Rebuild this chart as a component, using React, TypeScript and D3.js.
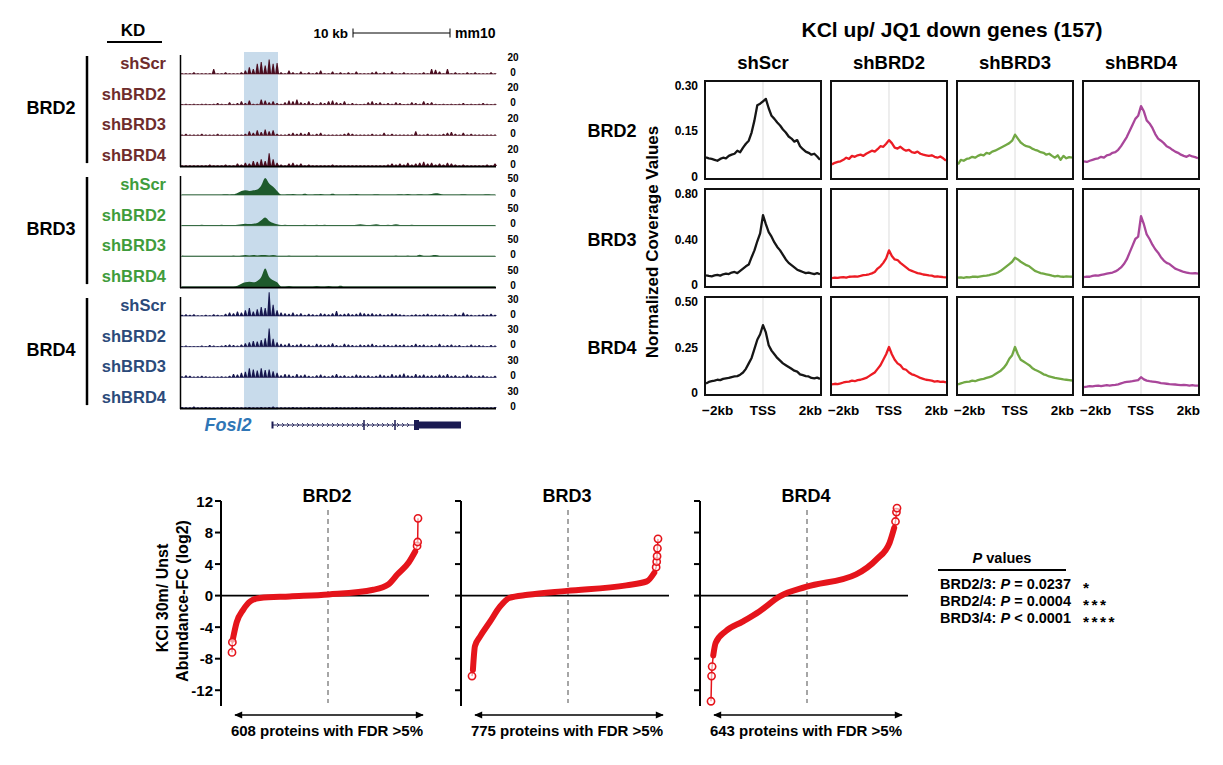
import React from "react";
import * as d3 from "d3";

const FONT = "'Liberation Sans', Arial, Helvetica, sans-serif";

// ---------------- Genome browser data ----------------
const kdNames = ["shScr", "shBRD2", "shBRD3", "shBRD4"];
const factorNames = ["BRD2", "BRD3", "BRD4"];
const trackMax = [20, 50, 30];
const geneName = "Fosl2";

const brd2ShScr = [1,0,1,2,0,1,1,0,6,1,0,2,1,0,1,2, 4,8,6,12,14,10,17,12,13, 2,1,4,2,1,3,1,2,1,2, 4,1,0,3,1,2,1,2,1,3, 1,0,1,2,3,1,2,1,3,1, 1,2,1,1,0,1,2,1,6,5, 3,1,6,1,2,1,1,2,1,2, 1,0,1,2,1];
const brd2ShBRD2 = [0,1,0,1,0,1,1,0,1,2,1,0,3,1,2,4, 2,5,1,1,6,5,3,4,2, 1,3,5,4,6,3,2,4,2,1, 3,2,4,5,3,2,4,1,2,1, 0,1,3,4,2,3,1,2,1,3, 2,0,1,3,2,1,4,2,3,1, 0,1,0,1,0,1,2,0,1,0, 1,2,1,0,1];
const brd2ShBRD3 = [1,2,1,0,1,2,1,0,1,2,1,0,1,0,1,1, 2,5,3,6,4,7,5,6,2, 1,0,2,3,2,3,2,4,1,2, 3,1,0,1,0,1,2,3,2,1, 0,1,1,2,0,1,3,1,2,1, 0,1,0,1,5,1,0,2,1,0, 1,2,3,4,2,1,3,1,2,1, 0,1,1,0,1];
const brd2ShBRD4 = [0,1,0,1,1,0,1,2,0,1,1,2,1,1,3,2, 4,3,6,5,8,6,15,8,4, 2,1,3,4,2,3,1,2,1,1, 0,1,1,2,1,0,1,1,0,1, 0,1,0,1,1,0,1,2,3,2, 3,2,4,2,3,4,5,3,4,2, 3,2,4,3,2,1,2,1,0,1, 1,0,2,1,3];

const brd3ShScr = [0,0,1,0,0,1,0,1,0,1,0,2,1,2,6,12, 14,12,14,16,28,50,34,24,12, 1,0,2,3,1,0,4,1,0,2, 3,1,0,4,1,0,1,0,2,3, 0,1,0,1,2,0,1,0,1,0, 2,1,3,0,1,2,0,1,3,5, 4,1,0,1,0,1,2,0,1,0, 0,1,2,1,0];
const brd3ShBRD2 = [0,1,0,1,2,3,2,1,0,2,3,2,1,2,3,4, 6,5,6,8,16,24,14,8,4, 1,3,2,1,0,2,3,1,0,3, 2,3,1,0,0,0,0,1,2,3, 4,3,2,3,4,2,1,3,2,4, 2,1,2,3,2,1,0,1,0,0, 0,1,0,0,1,2,0,0,1,0, 2,1,0,1,0];
const brd3ShBRD3 = [3,2,1,0,1,2,1,0,1,2,1,0,2,3,2,3, 4,3,4,3,4,4,3,4,2, 1,2,3,1,2,1,0,1,2,3, 2,1,1,0,1,2,1,0,1,2, 1,1,0,1,2,1,0,1,2,3, 1,2,3,2,1,5,2,1,3,4, 2,1,0,1,2,0,1,0,1,2, 1,0,1,0,1];
const brd3ShBRD4 = [1,0,1,2,1,0,1,0,1,2,1,0,2,1,4,10, 14,16,14,18,30,55,30,20,14, 2,1,3,2,1,0,1,2,1,3, 2,1,3,1,0,4,1,1,0,1, 0,1,2,0,1,0,1,0,2,1, 0,1,2,1,0,1,2,1,0,1, 0,1,2,0,1,0,1,0,1,2, 1,0,1,0,1];

const brd4ShScr = [2,3,2,3,1,0,2,1,3,2,1,4,6,5,8,6, 10,14,8,12,16,14,42,20,10, 6,5,4,6,3,5,2,4,3,2, 5,4,3,5,9,3,4,5,3,4, 6,5,4,5,3,4,2,3,5,4, 3,2,1,2,3,2,3,4,2,3, 2,3,2,1,4,2,6,3,2,1, 2,3,2,4,2];
const brd4ShBRD2 = [1,2,1,0,1,2,1,3,2,1,2,3,4,3,2,4, 6,8,10,9,12,15,32,14,8, 5,4,6,3,4,5,3,4,2,5, 4,3,4,6,3,2,5,4,3,2, 4,3,4,5,3,2,4,3,2,4, 3,4,2,3,5,3,4,2,3,2, 5,2,3,4,2,3,1,2,4,2, 3,2,1,3,2];
const brd4ShBRD3 = [2,4,3,1,2,3,2,1,0,1,2,1,3,6,5,8, 10,16,14,12,16,13,14,11,8, 4,6,5,3,6,4,5,3,2,4, 5,3,2,4,6,3,4,2,3,5, 4,3,4,2,3,5,4,3,6,4, 5,7,4,3,6,4,5,3,4,3, 5,4,6,3,4,2,3,5,4,2, 3,4,2,1,3];
const brd4ShBRD4 = [2,1,1,3,1,1,2,1,1,1,2,1,1,2,1,1, 1,2,1,1,2,1,2,3,1, 1,1,1,2,1,1,1,2,1,1, 2,1,1,1,2,1,1,1,1,2, 1,1,2,1,1,2,1,1,2,1, 1,2,1,1,1,2,1,1,2,1, 2,1,1,2,1,1,1,2,1,1, 2,1,1,1,2];

const brd2Tracks = [brd2ShScr, brd2ShBRD2, brd2ShBRD3, brd2ShBRD4];
const brd3Tracks = [brd3ShScr, brd3ShBRD2, brd3ShBRD3, brd3ShBRD4];
const brd4Tracks = [brd4ShScr, brd4ShBRD2, brd4ShBRD3, brd4ShBRD4];

// ---------------- Profile data (−2kb..+2kb, 100 bp bins) ----------------
const profileTitle = "KCl up/ JQ1 down genes (157)";
const profileCols = ["shScr", "shBRD2", "shBRD3", "shBRD4"];
const profileRows = ["BRD2", "BRD3", "BRD4"];
const profileYMax = [0.30, 0.80, 0.50];
const profileYTickLabels = [["0", "0.15", "0.30"], ["0", "0.40", "0.80"], ["0", "0.25", "0.50"]];
const profileXLabels = ["\u22122kb", "TSS", "2kb"];
const profileBins = d3.range(-2000, 2001, 100);

const pBRD2shScr = [0.063,0.060,0.058,0.055,0.052,0.058,0.062,0.060,0.068,0.072,0.075,0.085,0.080,0.095,0.108,0.118,0.145,0.185,0.235,0.240,0.248,0.256,0.225,0.200,0.190,0.178,0.168,0.155,0.145,0.132,0.125,0.115,0.120,0.100,0.090,0.082,0.078,0.072,0.075,0.066,0.055];
const pBRD2shBRD2 = [0.040,0.045,0.048,0.050,0.055,0.062,0.058,0.068,0.065,0.070,0.072,0.068,0.075,0.080,0.085,0.082,0.090,0.100,0.098,0.108,0.120,0.110,0.095,0.092,0.098,0.090,0.085,0.088,0.080,0.078,0.082,0.075,0.072,0.070,0.068,0.070,0.065,0.062,0.066,0.060,0.052];
const pBRD2shBRD3 = [0.040,0.055,0.052,0.058,0.060,0.065,0.062,0.068,0.072,0.070,0.078,0.075,0.082,0.085,0.090,0.095,0.100,0.105,0.110,0.118,0.138,0.125,0.112,0.105,0.100,0.098,0.092,0.088,0.085,0.080,0.078,0.072,0.075,0.068,0.062,0.070,0.055,0.068,0.060,0.064,0.062];
const pBRD2shBRD4 = [0.050,0.048,0.052,0.055,0.058,0.060,0.065,0.062,0.070,0.072,0.078,0.080,0.088,0.100,0.115,0.130,0.150,0.170,0.190,0.200,0.232,0.215,0.185,0.175,0.160,0.140,0.125,0.118,0.110,0.100,0.095,0.088,0.082,0.078,0.072,0.068,0.065,0.070,0.066,0.064,0.060];

const pBRD3shScr = [0.080,0.075,0.072,0.080,0.085,0.078,0.090,0.095,0.092,0.105,0.110,0.100,0.120,0.140,0.160,0.175,0.240,0.300,0.380,0.450,0.610,0.530,0.460,0.420,0.370,0.330,0.300,0.260,0.220,0.190,0.170,0.150,0.130,0.120,0.110,0.100,0.105,0.098,0.092,0.100,0.090];
const pBRD3shBRD2 = [0.055,0.060,0.058,0.062,0.065,0.060,0.068,0.070,0.072,0.070,0.075,0.082,0.085,0.090,0.098,0.110,0.140,0.160,0.190,0.230,0.300,0.250,0.220,0.215,0.190,0.170,0.150,0.130,0.120,0.110,0.100,0.095,0.088,0.085,0.080,0.078,0.070,0.072,0.068,0.065,0.063];
const pBRD3shBRD3 = [0.060,0.062,0.058,0.065,0.062,0.068,0.070,0.066,0.072,0.075,0.078,0.082,0.090,0.095,0.105,0.120,0.140,0.160,0.180,0.200,0.235,0.220,0.200,0.185,0.170,0.160,0.140,0.120,0.110,0.100,0.095,0.090,0.085,0.078,0.072,0.075,0.070,0.068,0.072,0.070,0.068];
const pBRD3shBRD4 = [0.065,0.070,0.068,0.075,0.080,0.078,0.085,0.090,0.095,0.100,0.105,0.115,0.130,0.150,0.180,0.220,0.280,0.340,0.400,0.420,0.600,0.530,0.440,0.400,0.350,0.310,0.280,0.240,0.210,0.190,0.180,0.160,0.140,0.130,0.120,0.110,0.105,0.100,0.098,0.100,0.095];

const pBRD4shScr = [0.050,0.058,0.062,0.065,0.070,0.068,0.075,0.078,0.080,0.085,0.088,0.090,0.098,0.110,0.130,0.160,0.190,0.240,0.290,0.320,0.370,0.330,0.260,0.230,0.210,0.190,0.175,0.160,0.150,0.140,0.130,0.120,0.115,0.100,0.095,0.090,0.088,0.080,0.078,0.082,0.075];
const pBRD4shBRD2 = [0.045,0.048,0.046,0.050,0.055,0.058,0.060,0.065,0.062,0.068,0.070,0.075,0.080,0.090,0.100,0.110,0.130,0.150,0.180,0.210,0.250,0.210,0.180,0.160,0.150,0.130,0.125,0.110,0.100,0.095,0.088,0.080,0.075,0.070,0.068,0.065,0.060,0.062,0.058,0.060,0.056];
const pBRD4shBRD3 = [0.045,0.050,0.055,0.058,0.060,0.065,0.062,0.068,0.072,0.075,0.080,0.085,0.090,0.100,0.110,0.120,0.135,0.155,0.185,0.205,0.250,0.210,0.180,0.170,0.160,0.150,0.135,0.125,0.118,0.110,0.100,0.095,0.088,0.085,0.080,0.078,0.075,0.072,0.070,0.068,0.066];
const pBRD4shBRD4 = [0.030,0.032,0.035,0.034,0.036,0.038,0.035,0.038,0.040,0.038,0.040,0.042,0.045,0.050,0.055,0.058,0.060,0.062,0.065,0.068,0.084,0.072,0.065,0.062,0.060,0.058,0.055,0.052,0.050,0.048,0.046,0.045,0.044,0.042,0.040,0.042,0.040,0.038,0.040,0.038,0.038];

const profileData = [
  [pBRD2shScr, pBRD2shBRD2, pBRD2shBRD3, pBRD2shBRD4],
  [pBRD3shScr, pBRD3shBRD2, pBRD3shBRD3, pBRD3shBRD4],
  [pBRD4shScr, pBRD4shBRD2, pBRD4shBRD3, pBRD4shBRD4],
];
const profileColors = ["#161616", "#ec1c24", "#72a844", "#a9469a"];

// ---------------- Waterfall data (rank fraction, log2 FC) ----------------
const wfNames = ["BRD2", "BRD3", "BRD4"];
const wfCounts = [608, 775, 643];
const wfYTicks = [-12, -8, -4, 0, 4, 8, 12];

const brd2Rank = [0.004, 0.025, 0.06, 0.10, 0.15, 0.31, 0.52, 0.76, 0.84, 0.89, 0.95, 0.985];
const brd2FC = [-5.6, -3.4, -1.8, -0.7, -0.3, -0.1, 0.15, 0.75, 1.4, 2.7, 4.2, 5.6];
const brd2LowRank = [0, 0.002];
const brd2LowFC = [-7.2, -5.9];
const brd2HighRank = [0.995, 0.998, 1];
const brd2HighFC = [6.3, 6.8, 9.8];

const brd3Rank = [0.005, 0.016, 0.043, 0.097, 0.15, 0.20, 0.30, 0.51, 0.83, 0.94, 0.98];
const brd3FC = [-9.4, -6.4, -5.2, -3.3, -1.4, -0.3, 0.1, 0.6, 1.3, 1.8, 2.9];
const brd3LowRank = [0];
const brd3LowFC = [-10.2];
const brd3HighRank = [0.99, 0.993, 0.995, 0.997, 1];
const brd3HighFC = [3.6, 4.3, 5.0, 6.0, 7.2];

const brd4Rank = [0.012, 0.025, 0.08, 0.17, 0.26, 0.37, 0.51, 0.78, 0.89, 0.96, 0.985];
const brd4FC = [-7.6, -6.0, -4.5, -3.3, -2.0, -0.1, 1.1, 2.7, 4.6, 6.7, 8.6];
const brd4LowRank = [0, 0.003, 0.006];
const brd4LowFC = [-13.4, -10.2, -9.0];
const brd4HighRank = [0.992, 0.997, 1];
const brd4HighFC = [9.4, 10.6, 11.1];

const pLabels = ["BRD2/3", "BRD2/4", "BRD3/4"];
const pOps = ["=", "=", "<"];
const pVals = ["0.0237", "0.0004", "0.0001"];
const pStars = ["*", "***", "****"];

// ======================================================================
function Genome() {
  const x0 = 181, x1 = 496;
  const groupTop = [56, 177, 298];
  const gap = 30.7;
  const amp = 17;
  const groups = [
    { tracks: brd2Tracks, label: "#6e2c2c", fill: "#4a0d1f", base: "#8f6b75", smooth: false },
    { tracks: brd3Tracks, label: "#3f9c3c", fill: "#1e5a2c", base: "#6f8f77", smooth: true },
    { tracks: brd4Tracks, label: "#2b4a7a", fill: "#16164e", base: "#6e6e92", smooth: false },
  ];
  const geneY = 425;
  return (
    <g>
      <text x={133} y={36} fontSize={17} fontWeight="bold" textAnchor="middle">KD</text>
      <line x1={107} x2={162} y1={42} y2={42} stroke="#000" strokeWidth={2} />
      <text x={348} y={38} fontSize={13.5} fontWeight="bold" textAnchor="end">10 kb</text>
      <line x1={353} x2={450} y1={33} y2={33} stroke="#000" strokeWidth={1} />
      <line x1={353} x2={353} y1={28.5} y2={37.5} stroke="#000" strokeWidth={1} />
      <line x1={450} x2={450} y1={28.5} y2={37.5} stroke="#000" strokeWidth={1} />
      <text x={455} y={38} fontSize={14} fontWeight="bold">mm10</text>
      <rect x={244} y={52} width={34} height={358} fill="#c8dbeb" />
      {groups.map((g, gi) => {
        const top = groupTop[gi];
        const baselines = g.tracks.map((_, ti) => top + 18 + ti * gap);
        const last = baselines[baselines.length - 1];
        return (
          <g key={gi}>
            <line x1={87} x2={87} y1={top} y2={last - 3} stroke="#000" strokeWidth={2.5} />
            <text x={51} y={(top + last) / 2 + 3} fontSize={18} fontWeight="bold" textAnchor="middle">{factorNames[gi]}</text>
            {g.tracks.map((vals, ti) => {
              const b = baselines[ti];
              const x = d3.scaleLinear().domain([0, vals.length - 1]).range([x0 + 1, x1 - 1]);
              const y = d3.scaleLinear().domain([0, trackMax[gi]]).range([b, b - amp]);
              let d = "";
              if (g.smooth) {
                const area = d3.area<number>().x((_, i) => x(i)).y0(b).y1((v) => Math.min(y(v), b - 0.6)).curve(d3.curveMonotoneX);
                d = area(vals) || "";
              } else {
                d = vals
                  .map((v, i) => {
                    const cx = x(i);
                    const ty = Math.min(y(v), b - 0.8);
                    return `M${(cx - 2).toFixed(2)},${b}L${(cx - 0.5).toFixed(2)},${ty.toFixed(2)}L${(cx + 0.5).toFixed(2)},${ty.toFixed(2)}L${(cx + 2).toFixed(2)},${b}Z`;
                  })
                  .join("");
              }
              return (
                <g key={ti}>
                  <line x1={x0} x2={x1} y1={b} y2={b} stroke={g.base} strokeWidth={1} />
                  <path d={d} fill={g.fill} />
                  <text x={166} y={b - 5} fontSize={16.5} fontWeight="bold" fill={g.label} textAnchor="end">{kdNames[ti]}</text>
                  <text x={513} y={b - 13.5} fontSize={10} fontWeight="bold" textAnchor="middle">{trackMax[gi]}</text>
                  <text x={513} y={b + 1.5} fontSize={10} fontWeight="bold" textAnchor="middle">0</text>
                </g>
              );
            })}
            <line x1={180.5} x2={180.5} y1={top - 1} y2={last + 1} stroke="#000" strokeWidth={1.5} />
            <line x1={180} x2={x1} y1={last + 0.5} y2={last + 0.5} stroke="#000" strokeWidth={1.6} />
          </g>
        );
      })}
      <text x={228} y={431} fontSize={18} fontWeight="bold" fontStyle="italic" fill="#2f76b6" textAnchor="middle">{geneName}</text>
      <line x1={272} x2={419} y1={geneY} y2={geneY} stroke="#1b1b52" strokeWidth={1} />
      <line x1={272.5} x2={272.5} y1={geneY - 3.5} y2={geneY + 3.5} stroke="#1b1b52" strokeWidth={2} />
      {d3.range(277, 412, 5).map((cx) => (
        <path key={cx} d={`M${cx},${geneY - 2}L${cx + 2},${geneY}L${cx},${geneY + 2}`} fill="none" stroke="#1b1b52" strokeWidth={0.8} />
      ))}
      <line x1={364} x2={364} y1={geneY - 5} y2={geneY + 5} stroke="#1b1b52" strokeWidth={1.5} />
      <line x1={395} x2={395} y1={geneY - 5} y2={geneY + 5} stroke="#1b1b52" strokeWidth={1.5} />
      <rect x={414} y={geneY - 5} width={5} height={10} fill="#1b1b52" />
      <rect x={419} y={geneY - 3.5} width={42} height={7} fill="#1b1b52" />
    </g>
  );
}

function Profiles() {
  const colBand = d3.scaleBand<string>().domain(profileCols).range([705, 1199]).paddingInner(0.0794);
  const rowBand = d3.scaleBand<string>().domain(profileRows).range([81, 395]).paddingInner(0.0926);
  return (
    <g>
      <text x={952} y={37} fontSize={21} fontWeight="bold" textAnchor="middle">{profileTitle}</text>
      {profileCols.map((c) => (
        <text key={c} x={(colBand(c) as number) + colBand.bandwidth() / 2} y={69} fontSize={18.5} fontWeight="bold" textAnchor="middle">{c}</text>
      ))}
      <text transform={`translate(658,242) rotate(-90)`} fontSize={17} fontWeight="bold" textAnchor="middle">Normalized Coverage Values</text>
      {profileRows.map((r, ri) => {
        const top = rowBand(r) as number;
        const bottom = top + rowBand.bandwidth();
        const y = d3.scaleLinear().domain([0, profileYMax[ri]]).range([bottom - 2.5, top + 4.5]);
        const ticks = [0, profileYMax[ri] / 2, profileYMax[ri]];
        return (
          <g key={r}>
            <text x={612} y={(top + bottom) / 2 + 7.5} fontSize={18} fontWeight="bold" textAnchor="middle">{r}</text>
            {ticks.map((t, k) => (
              <text key={k} x={698} y={y(t) + 4.5} fontSize={12} fontWeight="bold" textAnchor="end">{profileYTickLabels[ri][k]}</text>
            ))}
            {profileCols.map((c, ci) => {
              const left = colBand(c) as number;
              const right = left + colBand.bandwidth();
              const x = d3.scaleLinear().domain([-2000, 2000]).range([left + 1, right - 1]);
              const line = d3.line<number>().x((_, i) => x(profileBins[i])).y((v) => y(v)).curve(d3.curveLinear);
              return (
                <g key={c}>
                  <line x1={x(0)} x2={x(0)} y1={top} y2={bottom} stroke="#dcdcdc" strokeWidth={1} />
                  <path d={line(profileData[ri][ci]) || ""} fill="none" stroke={profileColors[ci]} strokeWidth={2.3} strokeLinejoin="round" />
                  <rect x={left} y={top} width={right - left} height={bottom - top} fill="none" stroke="#111" strokeWidth={2} />
                  {ri === profileRows.length - 1 && (
                    <g fontSize={13.5} fontWeight="bold">
                      <text x={left - 3} y={415} textAnchor="start">{profileXLabels[0]}</text>
                      <text x={x(0)} y={415} textAnchor="middle">{profileXLabels[1]}</text>
                      <text x={right + 1} y={415} textAnchor="end">{profileXLabels[2]}</text>
                    </g>
                  )}
                </g>
              );
            })}
          </g>
        );
      })}
    </g>
  );
}

function Waterfalls() {
  const axes = [221, 461, 700];
  const y = d3.scaleLinear().domain([-14, 12]).range([706, 501]);
  const sets = [
    { r: brd2Rank, f: brd2FC, lr: brd2LowRank, lf: brd2LowFC, hr: brd2HighRank, hf: brd2HighFC },
    { r: brd3Rank, f: brd3FC, lr: brd3LowRank, lf: brd3LowFC, hr: brd3HighRank, hf: brd3HighFC },
    { r: brd4Rank, f: brd4FC, lr: brd4LowRank, lf: brd4LowFC, hr: brd4HighRank, hf: brd4HighFC },
  ];
  const red = "#e5141b";
  return (
    <g>
      <defs>
        <marker id="arrowHead" viewBox="0 0 10 10" refX="9" refY="5" markerUnits="userSpaceOnUse" markerWidth="9" markerHeight="8" orient="auto-start-reverse">
          <path d="M0,0.5L10,5L0,9.5z" fill="#000" />
        </marker>
      </defs>
      <text transform="translate(168,598) rotate(-90)" fontSize={16} fontWeight="bold" textAnchor="middle">KCl 30m/ Unst</text>
      <text transform="translate(188,601) rotate(-90)" fontSize={16} fontWeight="bold" textAnchor="middle">Abundance-FC (log2)</text>
      {sets.map((s, si) => {
        const ax = axes[si];
        const x = d3.scaleLinear().domain([0, 1]).range([ax + 11, ax + 197]);
        const main: [number, number][] = s.r.map((r, i) => [r, s.f[i]]);
        const low: [number, number][] = s.lr.map((r, i) => [r, s.lf[i]]);
        const high: [number, number][] = s.hr.map((r, i) => [r, s.hf[i]]);
        const lineMain = d3.line<[number, number]>().x((d) => x(d[0])).y((d) => y(d[1])).curve(d3.curveMonotoneX);
        const lineThin = d3.line<[number, number]>().x((d) => x(d[0])).y((d) => y(d[1]));
        return (
          <g key={si}>
            <text x={ax + 106} y={502} fontSize={18} fontWeight="bold" textAnchor="middle">{wfNames[si]}</text>
            <line x1={ax} x2={ax} y1={y(12)} y2={706} stroke="#000" strokeWidth={2} />
            {wfYTicks.map((t) => (
              <g key={t}>
                <line x1={ax - 6} x2={ax} y1={y(t)} y2={y(t)} stroke="#000" strokeWidth={2} />
                {si === 0 && (
                  <text x={ax - 8} y={y(t) + 5.5} fontSize={15} fontWeight="bold" textAnchor="end">{t}</text>
                )}
              </g>
            ))}
            <line x1={ax + 107} x2={ax + 107} y1={510} y2={703} stroke="#777" strokeWidth={1.3} strokeDasharray="5,4" />
            <line x1={ax} x2={ax + 208} y1={y(0)} y2={y(0)} stroke="#000" strokeWidth={1.8} />
            <path d={lineThin([...low, main[0]]) || ""} fill="none" stroke={red} strokeWidth={1.5} />
            <path d={lineThin([main[main.length - 1], ...high]) || ""} fill="none" stroke={red} strokeWidth={1.5} />
            <path d={lineMain(main) || ""} fill="none" stroke={red} strokeWidth={6} strokeLinecap="round" strokeLinejoin="round" />
            {[...low, ...high].map((d, k) => (
              <circle key={k} cx={x(d[0])} cy={y(d[1])} r={3.6} fill="#fff" fillOpacity={0.6} stroke={red} strokeWidth={1.6} />
            ))}
            <line x1={ax + 14} x2={ax + 202} y1={715} y2={715} stroke="#000" strokeWidth={1.5} markerStart="url(#arrowHead)" markerEnd="url(#arrowHead)" />
            <text x={ax + 106} y={736} fontSize={15} fontWeight="bold" textAnchor="middle">{`${wfCounts[si]} proteins with FDR >5%`}</text>
          </g>
        );
      })}
    </g>
  );
}

function PValues() {
  const rowY = [589, 606, 623];
  return (
    <g fontSize={14.5} fontWeight="bold">
      <text x={1002} y={563} textAnchor="middle">
        <tspan fontStyle="italic">P</tspan>
        <tspan> values</tspan>
      </text>
      <line x1={938} x2={1066} y1={570} y2={570} stroke="#000" strokeWidth={2} />
      {pLabels.map((l, i) => (
        <g key={l}>
          <text x={940} y={rowY[i]}>
            <tspan>{l}: </tspan>
            <tspan fontStyle="italic">P</tspan>
            <tspan>{` ${pOps[i]} ${pVals[i]}`}</tspan>
          </text>
          <text x={1083} y={rowY[i] + 4} fontSize={15.5} letterSpacing={2.5}>{pStars[i]}</text>
        </g>
      ))}
    </g>
  );
}

export default function App() {
  return (
    <svg width={1223} height={765} style={{ position: "absolute", left: 0, top: 0, background: "#fff" }} fontFamily={FONT}>
      <rect width={1223} height={765} fill="#fff" />
      <Genome />
      <Profiles />
      <Waterfalls />
      <PValues />
    </svg>
  );
}
